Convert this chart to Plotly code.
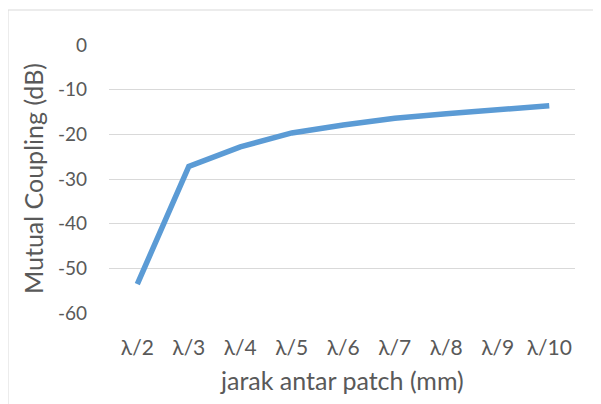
import plotly.graph_objects as go

categories = ["λ/2", "λ/3", "λ/4", "λ/5", "λ/6", "λ/7", "λ/8", "λ/9", "λ/10"]
mutual_coupling = [-53.5, -27.2, -22.8, -19.7, -17.9, -16.4, -15.4, -14.4, -13.6]
y_ticks = [0, -10, -20, -30, -40, -50, -60]
x_title = "jarak antar patch (mm)"
y_title = "Mutual Coupling (dB)"

FONT = "Lato, Calibri, Carlito, sans-serif"
GRAY = "#595959"
GRID = "#d9d9d9"

fig = go.Figure()
fig.add_trace(go.Scatter(
    x=categories, y=mutual_coupling, mode="lines",
    line=dict(color="#5b9bd5", width=5.5),
    showlegend=False, hoverinfo="skip",
))

# the page body adds an 8px offset; margins compensate for it
fig.update_layout(
    width=601, height=404,
    margin=dict(l=101, r=34, t=36, b=98, autoexpand=False),
    paper_bgcolor="white", plot_bgcolor="white",
    font=dict(family=FONT, color=GRAY),
    xaxis=dict(
        type="category", range=[-0.55, 8.5],
        showgrid=False, zeroline=False, showline=False,
        tickfont=dict(size=21, color=GRAY),
        ticklabelstandoff=19,
        automargin=False,
    ),
    yaxis=dict(
        range=[-60.2, 0.2],
        tickvals=y_ticks,
        ticktext=[str(v) for v in y_ticks],
        showgrid=True, gridcolor=GRID, gridwidth=1,
        zeroline=False, showline=False,
        tickfont=dict(size=19, color=GRAY),
        ticklabelstandoff=21,
        automargin=False,
    ),
    annotations=[
        dict(text=x_title, xref="paper", yref="paper", x=0.5, y=0,
             xanchor="center", yanchor="middle", yshift=-66, showarrow=False,
             font=dict(size=25, color=GRAY, family=FONT)),
        dict(text=y_title, xref="paper", yref="paper", x=0, y=0.5,
             xanchor="center", yanchor="middle", xshift=-76, textangle=-90,
             showarrow=False, font=dict(size=25, color=GRAY, family=FONT)),
    ],
    shapes=[dict(type="rect", xref="paper", yref="paper",
                 x0=-101/466, x1=1 + 22/466, y0=-1.5, y1=1 + 34/270,
                 line=dict(color="#d9d9d9", width=1), layer="below")],
)

fig.write_html("out.html")
